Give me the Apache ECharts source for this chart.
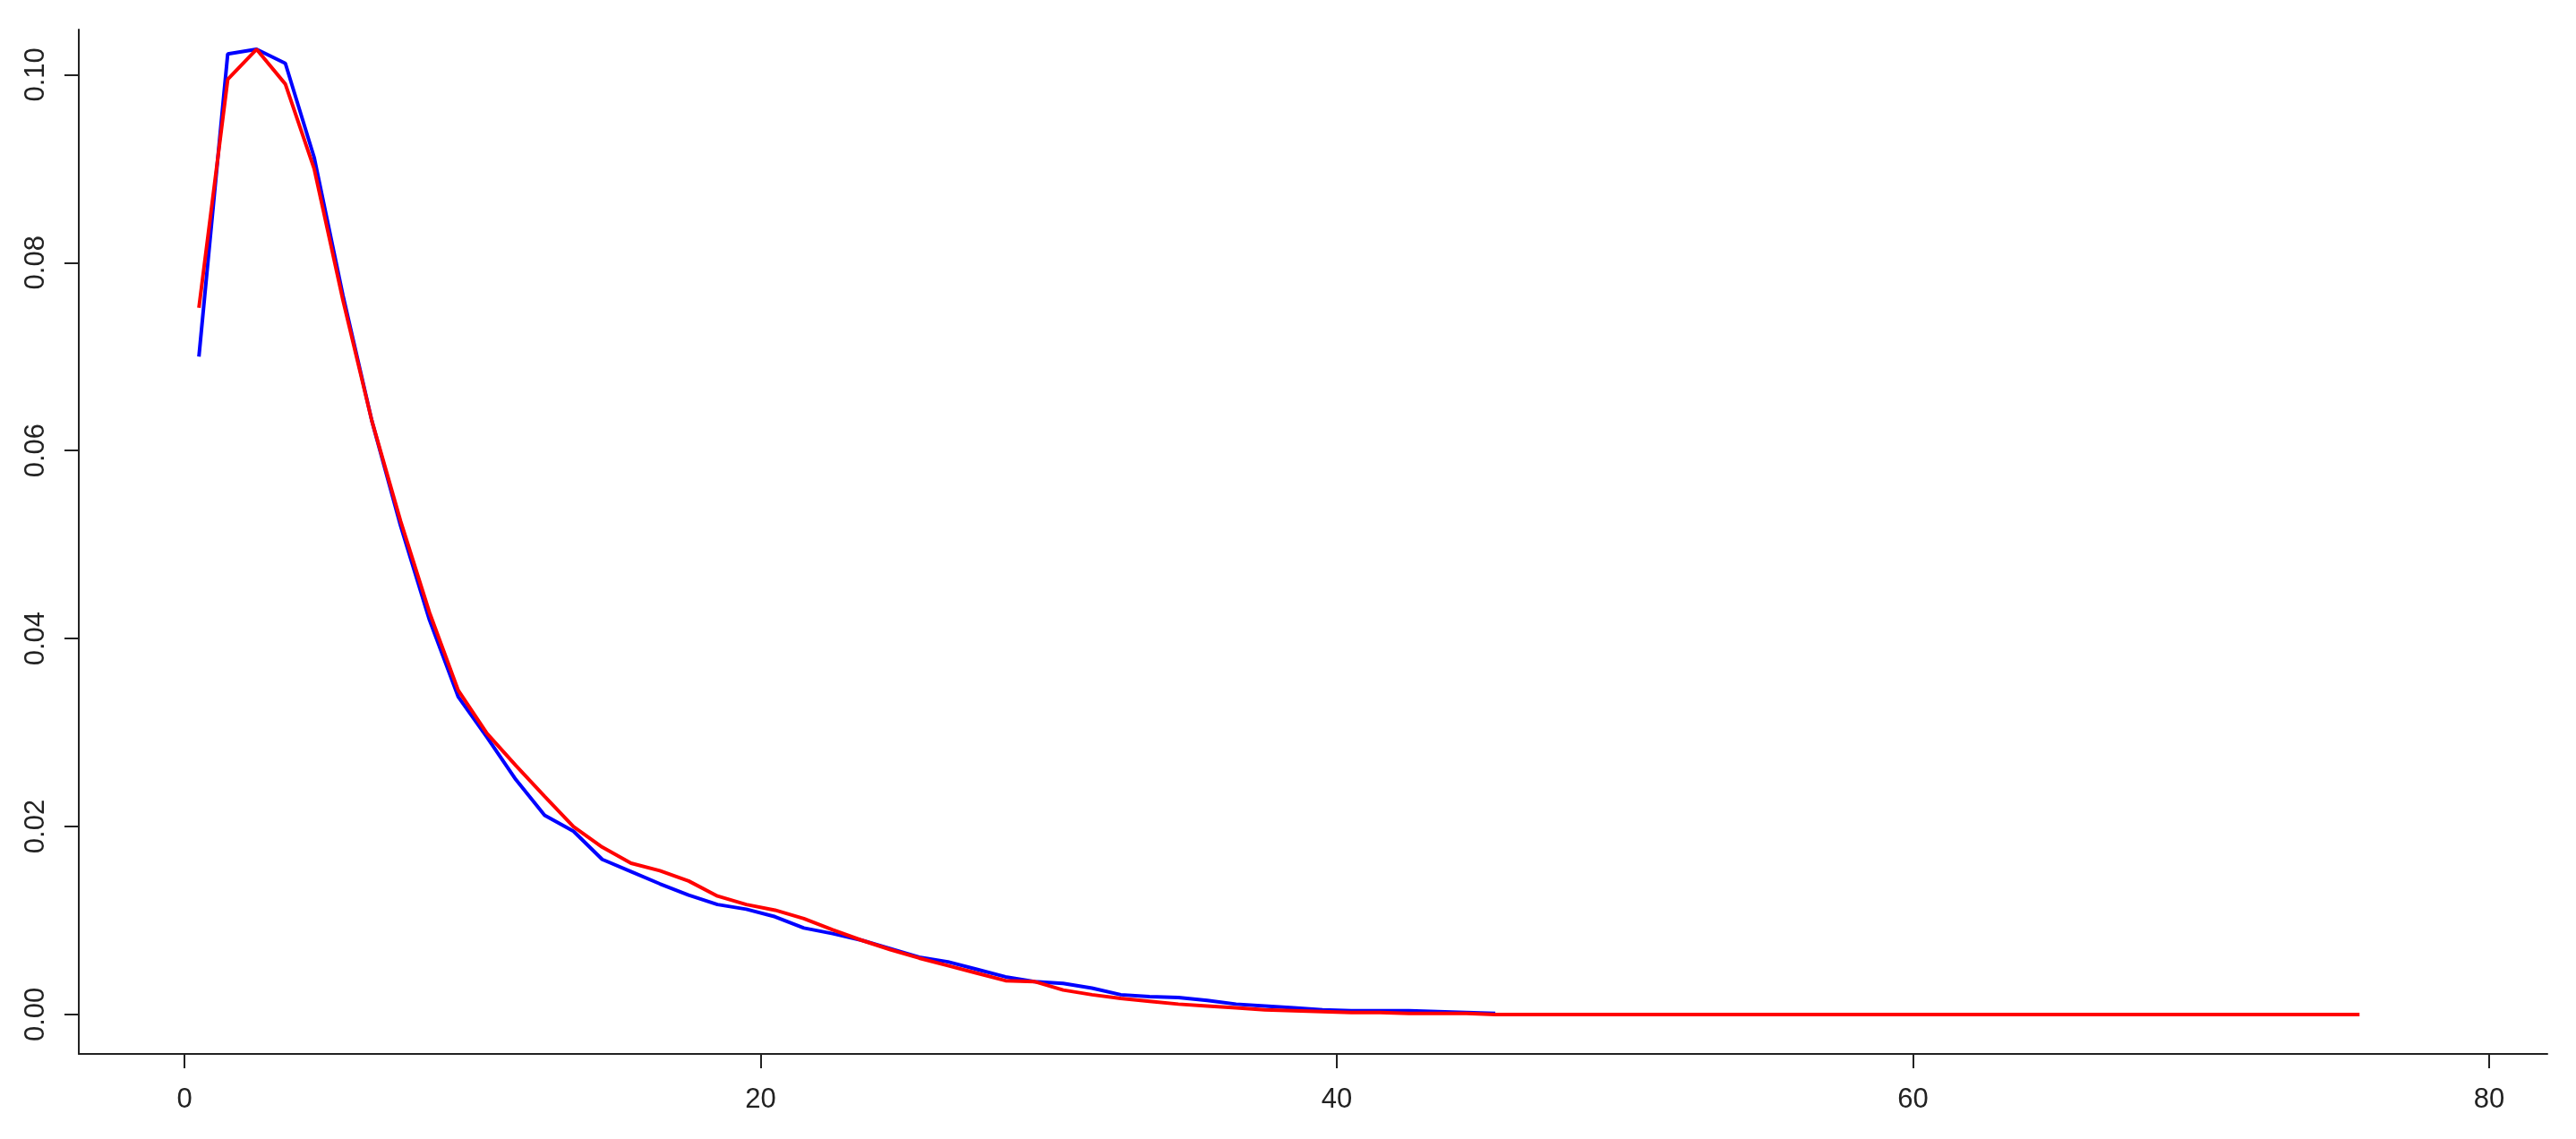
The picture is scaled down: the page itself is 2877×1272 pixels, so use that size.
<!DOCTYPE html>
<html>
<head>
<meta charset="utf-8">
<script src="https://cdn.jsdelivr.net/npm/echarts@6/dist/echarts.min.js"></script>
<style>
  html, body { margin: 0; padding: 0; background: #ffffff; }
  #chart { width: 2877px; height: 1272px; }
</style>
</head>
<body>
<div id="chart"></div>
<script>
// ---- data ----
const blueX = [0.5, 1.5, 2.5, 3.5, 4.5, 5.5, 6.5, 7.5, 8.5, 9.5,
  10.5, 11.5, 12.5, 13.5, 14.5, 15.5, 16.5, 17.5, 18.5, 19.5,
  20.5, 21.5, 22.5, 23.5, 24.5, 25.5, 26.5, 27.5, 28.5, 29.5,
  30.5, 31.5, 32.5, 33.5, 34.5, 35.5, 36.5, 37.5, 38.5, 39.5,
  40.5, 41.5, 42.5, 43.5, 44.5, 45.5];
const blueY = [0.0700, 0.1022, 0.1027, 0.1012, 0.0912, 0.0765, 0.0632, 0.0520, 0.0420, 0.0338,
  0.0295, 0.0250, 0.0212, 0.0195, 0.0165, 0.0152, 0.0139, 0.0127, 0.0117, 0.0112,
  0.0104, 0.0092, 0.0086, 0.0079, 0.0070, 0.0061, 0.0056, 0.0048, 0.0040, 0.0035,
  0.0033, 0.0028, 0.0021, 0.0019, 0.0018, 0.0015, 0.0011, 0.0009, 0.0007, 0.0005,
  0.0004, 0.0004, 0.0004, 0.0003, 0.0002, 0.0001];

const redX = [0.5, 1.5, 2.5, 3.5, 4.5, 5.5, 6.5, 7.5, 8.5, 9.5,
  10.5, 11.5, 12.5, 13.5, 14.5, 15.5, 16.5, 17.5, 18.5, 19.5,
  20.5, 21.5, 22.5, 23.5, 24.5, 25.5, 26.5, 27.5, 28.5, 29.5,
  30.5, 31.5, 32.5, 33.5, 34.5, 35.5, 36.5, 37.5, 38.5, 39.5,
  40.5, 41.5, 42.5, 43.5, 44.5, 45.5, 46.5, 47.5, 48.5, 49.5,
  50.5, 51.5, 52.5, 53.5, 54.5, 55.5, 56.5, 57.5, 58.5, 59.5,
  60.5, 61.5, 62.5, 63.5, 64.5, 65.5, 66.5, 67.5, 68.5, 69.5,
  70.5, 71.5, 72.5, 73.5, 74.5, 75.5];
const redY = [0.0752, 0.0995, 0.1027, 0.0990, 0.0900, 0.0760, 0.0632, 0.0525, 0.0428, 0.0345,
  0.0299, 0.0265, 0.0232, 0.0200, 0.0178, 0.0161, 0.0153, 0.0142, 0.0126, 0.0117,
  0.0111, 0.0102, 0.0090, 0.0079, 0.0069, 0.0060, 0.0052, 0.0044, 0.0036, 0.0035,
  0.0026, 0.0021, 0.0017, 0.0014, 0.0011, 0.0009, 0.0007, 0.0005, 0.0004, 0.0003,
  0.0002, 0.0002, 0.0001, 0.0001, 0.0001, 0, 0, 0, 0, 0,
  0, 0, 0, 0, 0, 0, 0, 0, 0, 0,
  0, 0, 0, 0, 0, 0, 0, 0, 0, 0,
  0, 0, 0, 0, 0, 0];

const xTicks = [0, 20, 40, 60, 80];
const yTicks = [0, 0.02, 0.04, 0.06, 0.08, 0.10];

// ---- chart ----
const chart = echarts.init(document.getElementById('chart'), null, { renderer: 'canvas' });
const font = '"Liberation Sans", Arial, sans-serif';
const axisColor = '#222222';

chart.setOption({
  animation: false,
  backgroundColor: '#ffffff',
  grid: { left: 88, right: 32, top: 33, bottom: 95, containLabel: false },
  xAxis: {
    type: 'value',
    min: -3.67,
    max: 82.02,
    axisLine: { show: true, onZero: false, lineStyle: { color: axisColor, width: 2 } },
    axisTick: { show: true, inside: false, length: 16, customValues: xTicks, lineStyle: { color: axisColor, width: 2 } },
    axisLabel: {
      show: true, customValues: xTicks, margin: 36,
      fontSize: 31, fontFamily: font, color: '#222222',
      formatter: v => String(v)
    },
    splitLine: { show: false }
  },
  yAxis: {
    type: 'value',
    min: -0.0042,
    max: 0.1048,
    axisLine: { show: true, onZero: false, lineStyle: { color: axisColor, width: 2 } },
    axisTick: { show: true, inside: false, length: 16, customValues: yTicks, lineStyle: { color: axisColor, width: 2 } },
    axisLabel: {
      show: true, customValues: yTicks, margin: 32, rotate: 90,
      fontSize: 31, fontFamily: font, color: '#222222',
      formatter: v => v.toFixed(2)
    },
    splitLine: { show: false }
  },
  series: [
    {
      name: 'blue', type: 'line',
      data: blueX.map((x, i) => [x, blueY[i]]),
      showSymbol: false, symbol: 'none',
      lineStyle: { color: '#0000ff', width: 4 },
      itemStyle: { color: '#0000ff' },
      z: 2
    },
    {
      name: 'red', type: 'line',
      data: redX.map((x, i) => [x, redY[i]]),
      showSymbol: false, symbol: 'none',
      lineStyle: { color: '#ff0000', width: 4 },
      itemStyle: { color: '#ff0000' },
      z: 3
    }
  ]
});
</script>
</body>
</html>
